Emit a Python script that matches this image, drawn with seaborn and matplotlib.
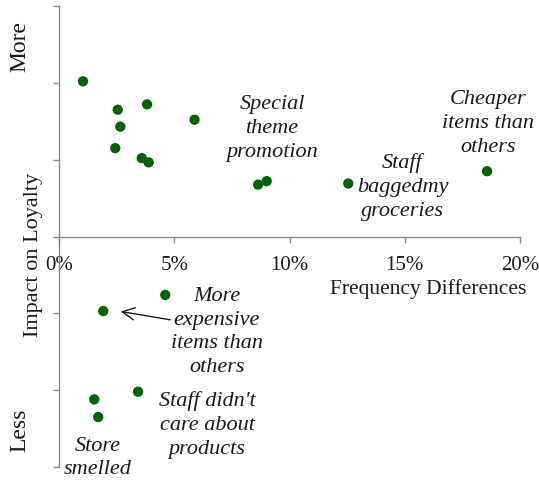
import pandas as pd
import matplotlib
matplotlib.use('Agg')
import matplotlib.pyplot as plt
import seaborn as sns
from matplotlib.ticker import PercentFormatter

# Diferenca de frequencia (x) e impacto na lealdade (y)
freq_diff = [0.0104, 0.0255, 0.0382, 0.0266, 0.0588, 0.0244, 0.0359, 0.0389,
             0.0864, 0.0901, 0.1255, 0.1857,
             0.0461, 0.0192, 0.0343, 0.0153, 0.0170]
impact = [2.02, 1.65, 1.72, 1.43, 1.52, 1.15, 1.02, 0.965,
          0.675, 0.72, 0.69, 0.85,
          -0.76, -0.97, -2.02, -2.12, -2.35]

x_ticks = [0, 0.05, 0.10, 0.15, 0.20]
y_ticks = [-3, -2, -1, 0, 1, 2, 3]

# rotulos das anotacoes (texto, x, y)
rotulos = ['Special\ntheme\npromotion', 'Cheaper\nitems than\nothers',
           'Staff\nbaggedmy\ngroceries', 'More\nexpensive\nitems than\nothers',
           "Staff didn't\ncare about\nproducts", 'Store\nsmelled']
rot_x = [0.0924, 0.186, 0.149, 0.0685, 0.0642, 0.0169]
rot_y = [1.415, 1.48, 0.66, -1.23, -2.44, -2.87]

dados = pd.DataFrame({'freq': freq_diff, 'impacto': impact})

sns.set_style('white')
plt.rcParams['font.family'] = ['Liberation Serif', 'DejaVu Serif']

fig = plt.figure(figsize=(5.39, 4.81), dpi=100)
ax = fig.add_axes([59 / 539, 13 / 481, 461 / 539, 461 / 481])

sns.scatterplot(x='freq', y='impacto', data=dados, ax=ax, color='#006400',
                s=55, edgecolor='none', zorder=3)

ax.set_xlim(0, 0.20)
ax.set_ylim(-3, 3)
ax.set_xticks(x_ticks)
ax.set_yticks(y_ticks)
ax.set_yticklabels([])
ax.xaxis.set_major_formatter(PercentFormatter(1.0, decimals=0))
ax.set_xlabel('')
ax.set_ylabel('')

for lado in ['top', 'right']:
    ax.spines[lado].set_visible(False)
ax.spines['left'].set_position(('data', 0))
ax.spines['bottom'].set_position(('data', 0))
for lado in ['left', 'bottom']:
    ax.spines[lado].set_color('#8a8a8a')
    ax.spines[lado].set_linewidth(1.0)

ax.tick_params(axis='both', direction='out', length=4, width=1.0,
               color='#8a8a8a', labelsize=15, labelcolor='#1a1a1a')
ax.tick_params(axis='x', pad=9)
ax.tick_params(axis='y', left=True)
ax.tick_params(axis='x', bottom=True)

ax.text(0.16, -0.675, 'Frequency Differences', ha='center', va='center',
        fontsize=15.5, color='#1a1a1a')

for txt, tx, ty in zip(rotulos, rot_x, rot_y):
    ax.text(tx, ty, txt, ha='center', va='center', fontsize=16,
            style='italic', color='#1a1a1a', linespacing=1.35)

ax.annotate('', xy=(0.0256, -0.97), xytext=(0.0494, -1.09),
            arrowprops=dict(arrowstyle='->', color='#1a1a1a', lw=1.0,
                            mutation_scale=22))

fig.text(20 / 539, 1 - 46 / 481, 'More', rotation=90, ha='center', va='center',
         fontsize=17, color='#1a1a1a')
fig.text(34 / 539, 1 - 255 / 481, 'Impact on Loyalty', rotation=90, ha='center',
         va='center', fontsize=16, color='#1a1a1a')
fig.text(20 / 539, 1 - 430 / 481, 'Less', rotation=90, ha='center', va='center',
         fontsize=17, color='#1a1a1a')

fig.savefig('out.png', dpi=100)
